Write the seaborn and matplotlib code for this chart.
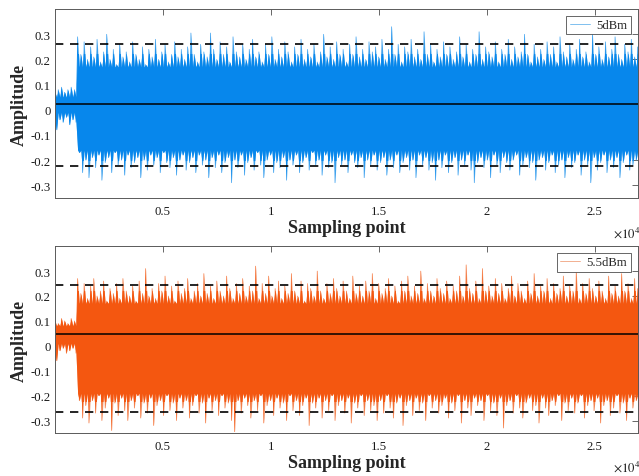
import numpy as np
import pandas as pd
import matplotlib
matplotlib.use("Agg")
import matplotlib.pyplot as plt
import seaborn as sns
from matplotlib.patches import Rectangle
from matplotlib.ticker import FuncFormatter

# envelope readings of the waveform: one local maximum and one local minimum
# every 150 samples (quiet part up to ~1000 samples, then the full signal)
step = 150

up_5 = [0.07, 0.08, 0.09, 0.07, 0.08, 0.09, 0.08, 0.29, 0.22, 0.27,
        0.20, 0.25, 0.21, 0.28, 0.19, 0.23, 0.30, 0.20, 0.24, 0.18,
        0.26, 0.21, 0.23, 0.19, 0.27, 0.22, 0.20, 0.25, 0.18, 0.24,
        0.21, 0.28, 0.20, 0.23, 0.26, 0.19, 0.22, 0.27, 0.21, 0.24,
        0.20, 0.25, 0.305, 0.22, 0.19, 0.26, 0.23, 0.21, 0.305, 0.24,
        0.20, 0.27, 0.22, 0.25, 0.19, 0.29, 0.23, 0.21, 0.26, 0.20,
        0.24, 0.28, 0.21, 0.23, 0.19, 0.26, 0.22, 0.29, 0.20, 0.24,
        0.21, 0.27, 0.23, 0.19, 0.25, 0.22, 0.28, 0.20, 0.24, 0.21,
        0.26, 0.19, 0.23, 0.30, 0.21, 0.25, 0.20, 0.27, 0.22, 0.24,
        0.19, 0.26, 0.22, 0.29, 0.21, 0.24, 0.20, 0.27, 0.23, 0.25,
        0.21, 0.28, 0.20, 0.24, 0.33, 0.22, 0.26, 0.19, 0.25, 0.23,
        0.28, 0.21, 0.24, 0.20, 0.31, 0.22, 0.26, 0.19, 0.24, 0.21,
        0.27, 0.22, 0.25, 0.20, 0.23, 0.29, 0.21, 0.26, 0.19, 0.24,
        0.22, 0.31, 0.20, 0.25, 0.23, 0.21, 0.27, 0.19, 0.24, 0.22,
        0.28, 0.20, 0.25, 0.21, 0.23, 0.30, 0.22, 0.19, 0.26, 0.21,
        0.24, 0.20, 0.27, 0.22, 0.25, 0.19, 0.29, 0.23, 0.21, 0.26,
        0.20, 0.24, 0.28, 0.21, 0.23, 0.19, 0.305, 0.22, 0.25, 0.20,
        0.27, 0.21, 0.24, 0.29, 0.22, 0.20, 0.26, 0.23, 0.28, 0.21,
        0.25]
down_5 = [-0.08, -0.04, -0.05, -0.03, -0.06, -0.04, -0.05, -0.17, -0.25, -0.20,
          -0.27, -0.19, -0.23, -0.18, -0.28, -0.21, -0.19, -0.25, -0.17, -0.22,
          -0.20, -0.26, -0.18, -0.23, -0.21, -0.19, -0.27, -0.20, -0.24, -0.18,
          -0.22, -0.19, -0.25, -0.17, -0.21, -0.23, -0.19, -0.26, -0.20, -0.18,
          -0.24, -0.21, -0.19, -0.25, -0.18, -0.22, -0.20, -0.27, -0.19, -0.23,
          -0.18, -0.25, -0.21, -0.19, -0.29, -0.20, -0.23, -0.18, -0.26, -0.21,
          -0.19, -0.24, -0.17, -0.22, -0.27, -0.20, -0.18, -0.25, -0.21, -0.23,
          -0.19, -0.28, -0.20, -0.22, -0.18, -0.25, -0.21, -0.19, -0.24, -0.17,
          -0.22, -0.20, -0.26, -0.18, -0.23, -0.21, -0.29, -0.19, -0.22, -0.20,
          -0.25, -0.18, -0.21, -0.23, -0.19, -0.27, -0.20, -0.22, -0.18, -0.24,
          -0.21, -0.19, -0.26, -0.20, -0.23, -0.18, -0.25, -0.21, -0.19, -0.24,
          -0.20, -0.27, -0.18, -0.22, -0.19, -0.24, -0.21, -0.28, -0.20, -0.23,
          -0.18, -0.25, -0.21, -0.19, -0.26, -0.20, -0.22, -0.18, -0.24, -0.29,
          -0.21, -0.19, -0.23, -0.20, -0.27, -0.18, -0.22, -0.25, -0.19, -0.21,
          -0.24, -0.20, -0.18, -0.26, -0.22, -0.19, -0.23, -0.21, -0.28, -0.20,
          -0.19, -0.24, -0.21, -0.18, -0.25, -0.22, -0.20, -0.27, -0.19, -0.23,
          -0.21, -0.18, -0.26, -0.20, -0.22, -0.29, -0.19, -0.24, -0.21, -0.18,
          -0.25, -0.20, -0.23, -0.19, -0.27, -0.21, -0.18, -0.24, -0.22, -0.20,
          -0.26]

up_55 = [0.10, 0.09, 0.11, 0.10, 0.09, 0.11, 0.10, 0.27, 0.21, 0.25,
         0.19, 0.24, 0.27, 0.20, 0.22, 0.26, 0.18, 0.23, 0.21, 0.25,
         0.19, 0.27, 0.22, 0.20, 0.24, 0.18, 0.26, 0.21, 0.31, 0.20,
         0.23, 0.19, 0.25, 0.22, 0.28, 0.20, 0.24, 0.18, 0.26, 0.21,
         0.23, 0.27, 0.19, 0.22, 0.25, 0.20, 0.29, 0.21, 0.24, 0.19,
         0.26, 0.22, 0.20, 0.28, 0.23, 0.19, 0.25, 0.21, 0.27, 0.20,
         0.24, 0.22, 0.32, 0.19, 0.25, 0.21, 0.28, 0.20, 0.23, 0.26,
         0.19, 0.24, 0.21, 0.29, 0.22, 0.20, 0.26, 0.18, 0.25, 0.23,
         0.20, 0.30, 0.22, 0.19, 0.25, 0.21, 0.27, 0.23, 0.20, 0.26,
         0.22, 0.19, 0.28, 0.21, 0.24, 0.20, 0.26, 0.22, 0.29, 0.19,
         0.25, 0.21, 0.23, 0.27, 0.20, 0.24, 0.18, 0.26, 0.22, 0.28,
         0.20, 0.24, 0.21, 0.30, 0.19, 0.25, 0.22, 0.20, 0.27, 0.23,
         0.21, 0.26, 0.19, 0.24, 0.22, 0.28, 0.20, 0.325, 0.23, 0.21,
         0.26, 0.19, 0.31, 0.22, 0.24, 0.20, 0.27, 0.21, 0.25, 0.19,
         0.23, 0.28, 0.20, 0.25, 0.22, 0.19, 0.26, 0.21, 0.29, 0.20,
         0.24, 0.22, 0.27, 0.19, 0.25, 0.21, 0.23, 0.28, 0.20, 0.24,
         0.22, 0.30, 0.19, 0.25, 0.21, 0.27, 0.23, 0.20, 0.26, 0.22,
         0.19, 0.28, 0.21, 0.24, 0.20, 0.29, 0.22, 0.25, 0.19, 0.27,
         0.23]
down_55 = [-0.06, -0.02, -0.01, -0.03, -0.02, -0.01, -0.03, -0.22, -0.29, -0.24,
           -0.31, -0.22, -0.27, -0.20, -0.30, -0.25, -0.21, -0.34, -0.23, -0.28,
           -0.21, -0.26, -0.30, -0.22, -0.25, -0.20, -0.29, -0.23, -0.27, -0.21,
           -0.32, -0.24, -0.22, -0.28, -0.20, -0.26, -0.23, -0.30, -0.21, -0.25,
           -0.22, -0.29, -0.24, -0.20, -0.27, -0.23, -0.31, -0.21, -0.26, -0.22,
           -0.28, -0.20, -0.25, -0.23, -0.30, -0.345, -0.22, -0.27, -0.21, -0.24,
           -0.29, -0.22, -0.26, -0.20, -0.31, -0.24, -0.22, -0.28, -0.21, -0.25,
           -0.23, -0.30, -0.20, -0.26, -0.22, -0.28, -0.24, -0.21, -0.32, -0.23,
           -0.25, -0.21, -0.29, -0.22, -0.26, -0.20, -0.30, -0.24, -0.22, -0.27,
           -0.21, -0.31, -0.23, -0.25, -0.20, -0.28, -0.22, -0.26, -0.24, -0.30,
           -0.22, -0.27, -0.20, -0.25, -0.29, -0.23, -0.21, -0.32, -0.24, -0.22,
           -0.28, -0.21, -0.26, -0.23, -0.30, -0.20, -0.25, -0.22, -0.27, -0.24,
           -0.21, -0.29, -0.23, -0.26, -0.20, -0.31, -0.22, -0.25, -0.28, -0.21,
           -0.24, -0.22, -0.30, -0.20, -0.26, -0.23, -0.28, -0.21, -0.33, -0.24,
           -0.22, -0.27, -0.20, -0.25, -0.29, -0.23, -0.21, -0.26, -0.24, -0.31,
           -0.21, -0.25, -0.28, -0.22, -0.24, -0.20, -0.30, -0.23, -0.26, -0.21,
           -0.27, -0.23, -0.20, -0.29, -0.24, -0.22, -0.26, -0.21, -0.31, -0.24,
           -0.22, -0.28, -0.25, -0.20, -0.27, -0.23, -0.30, -0.21, -0.25, -0.22,
           -0.29]

# level of the dense core of the band: (quiet part, full signal)
onset = 1000
core_hi_5 = (0.05, 0.17)
core_lo_5 = (-0.01, -0.16)
core_hi_55 = (0.08, 0.17)
core_lo_55 = (0.01, -0.19)

# mean and +/- reference levels
levels_5 = [0.022, 0.26, -0.225]
levels_55 = [0.047, 0.243, -0.264]

xticks = [5000, 10000, 15000, 20000, 25000]
yticks = [-0.3, -0.2, -0.1, 0, 0.1, 0.2, 0.3]

sns.set_theme(style="white")
plt.rcParams["font.family"] = ["Liberation Serif", "DejaVu Serif"]
plt.rcParams["mathtext.fontset"] = "stix"

fig = plt.figure(figsize=(6.39, 4.77), dpi=100)
ax1 = fig.add_axes([0.086, 0.583, 0.912, 0.396])
ax2 = fig.add_axes([0.086, 0.090, 0.912, 0.392])


def panel(ax, up, down, hi, lo, levels, color, light, band, label):
    pos = np.arange(len(up)) * step
    x = np.column_stack([pos, pos + step / 2]).ravel()
    quiet = x < onset
    hi_x = np.where(quiet, hi[0], hi[1])
    lo_x = np.where(quiet, lo[0], lo[1])
    upper = np.column_stack([up, hi_x[1::2]]).ravel()
    lower = np.column_stack([lo_x[0::2], down]).ravel()

    # thin spikes reaching the peaks drawn light, the dense part in full colour
    ax.fill_between(x, lower, upper, color=light, lw=0, zorder=2)
    dense = ax.fill_between(x, lower, upper, color=color, lw=0, zorder=2.1)
    dense.set_clip_path(Rectangle((0, band[0]), 27000, band[1] - band[0],
                                  transform=ax.transData))
    df = pd.DataFrame({"x": x, "y": np.column_stack([up, down]).ravel()})
    sns.lineplot(data=df, x="x", y="y", ax=ax, sort=False, estimator=None,
                 color=color, lw=0.4, label=label, zorder=2.2)

    ax.axhline(levels[0], color="black", lw=1.1, zorder=3)
    for lv in levels[1:]:
        ax.axhline(lv, color="black", lw=1.2, dashes=(5, 4), zorder=3)

    ax.set_xlim(0, 27000)
    ax.set_ylim(-0.35, 0.4)
    ax.set_xticks(xticks)
    ax.set_yticks(yticks)
    ax.xaxis.set_major_formatter(FuncFormatter(lambda v, p: f"{v / 1e4:g}"))
    ax.yaxis.set_major_formatter(FuncFormatter(lambda v, p: f"{v:g}"))
    ax.tick_params(direction="in", top=True, right=True, length=4, width=0.6,
                   color="0.3", labelsize=9.2, labelcolor="0.1")
    ax.tick_params(axis="x", pad=5)
    ax.tick_params(axis="y", pad=3)
    for sp in ax.spines.values():
        sp.set_color("0.35")
        sp.set_linewidth(0.7)
        sp.set_zorder(4)
    ax.set_xlabel("Sampling point", fontsize=13, fontweight="bold", labelpad=1.5)
    ax.set_ylabel("Amplitude", fontsize=13, fontweight="bold", labelpad=2)
    ax.text(0.957, -0.18, r"$\times10^{4}$", transform=ax.transAxes,
            ha="left", va="center", fontsize=9.2, color="0.1")
    leg = ax.legend(loc="upper right", fancybox=False, edgecolor="0.3",
                    framealpha=1, fontsize=9.2, handlelength=1.6,
                    handletextpad=0.5, borderaxespad=0.55, borderpad=0.25)
    leg.get_frame().set_linewidth(0.6)
    for h in leg.get_lines():
        h.set_linewidth(0.6)
        h.set_color(light)


panel(ax1, up_5, down_5, core_hi_5, core_lo_5, levels_5, "#0787ec", "#6ab6ec",
      (-0.2, 0.22), "5dBm")
panel(ax2, up_55, down_55, core_hi_55, core_lo_55, levels_55, "#f45710", "#f0a27e",
      (-0.22, 0.22), "5.5dBm")

fig.savefig("out.png", dpi=100)
